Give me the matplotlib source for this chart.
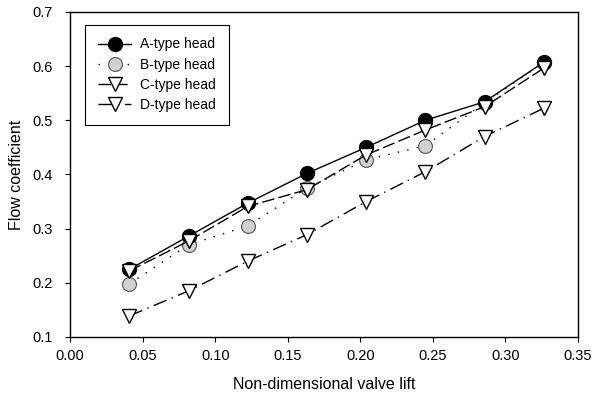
import matplotlib
matplotlib.use("Agg")
import matplotlib.pyplot as plt
from matplotlib.ticker import FormatStrFormatter

plt.rcParams['font.family'] = ['Liberation Sans', 'DejaVu Sans']

lift = [0.0408, 0.0816, 0.1224, 0.1633, 0.2041, 0.2449, 0.2857, 0.3265]
a_type = [0.225, 0.286, 0.347, 0.402, 0.450, 0.500, 0.534, 0.607]
b_type = [0.198, 0.270, 0.305, 0.375, 0.427, 0.453, 0.532, 0.606]
c_type = [0.222, 0.277, 0.341, 0.372, 0.436, 0.482, 0.525, 0.596]
d_type = [0.139, 0.185, 0.240, 0.289, 0.350, 0.405, 0.470, 0.522]
labels = ["A-type head", "B-type head", "C-type head", "D-type head"]
xticks = [0.00, 0.05, 0.10, 0.15, 0.20, 0.25, 0.30, 0.35]
yticks = [0.1, 0.2, 0.3, 0.4, 0.5, 0.6, 0.7]

fig = plt.figure(figsize=(5.95, 3.96), dpi=100)
ax = fig.add_axes([0.118, 0.149, 0.853, 0.821])

ms = 10
ax.plot(lift, a_type, color='black', lw=1.0, ls='-', marker='o', ms=ms,
        mfc='black', mec='black', label=labels[0], zorder=4)
ax.plot(lift, b_type, color='black', lw=1.0, ls=(0, (1, 6)), marker='o', ms=ms,
        mfc='#d0d0d0', mec='#555555', mew=0.8, label=labels[1], zorder=3)
ax.plot(lift, c_type, color='black', lw=1.0, ls=(0, (9, 3)), marker='v', ms=ms,
        mfc='white', mec='black', mew=1.0, label=labels[2], zorder=5)
ax.plot(lift, d_type, color='black', lw=1.0, ls=(0, (10, 4, 1, 4)), marker='v', ms=ms,
        mfc='white', mec='black', mew=1.0, label=labels[3], zorder=5)

ax.set_xlim(0, 0.35)
ax.set_ylim(0.1, 0.7)
ax.set_xticks(xticks)
ax.set_yticks(yticks)
ax.xaxis.set_major_formatter(FormatStrFormatter('%.2f'))
ax.yaxis.set_major_formatter(FormatStrFormatter('%.1f'))
ax.tick_params(direction='out', length=3.5, width=0.8, labelsize=10.5)
ax.tick_params(axis='x', pad=5)
ax.tick_params(axis='y', pad=9)
for s in ax.spines.values():
    s.set_linewidth(1.0)

ax.set_xlabel("Non-dimensional valve lift", fontsize=11.5, labelpad=10)
ax.set_ylabel("Flow coefficient", fontsize=11.5, labelpad=6)

leg = ax.legend(loc='upper left', bbox_to_anchor=(0.03, 0.96), fontsize=10,
                frameon=True, fancybox=False, edgecolor='black', framealpha=1,
                handlelength=2.4, borderpad=0.9, labelspacing=0.45, handletextpad=0.65,
                borderaxespad=0)
leg.get_frame().set_linewidth(0.8)

fig.savefig("out.png", dpi=100)
